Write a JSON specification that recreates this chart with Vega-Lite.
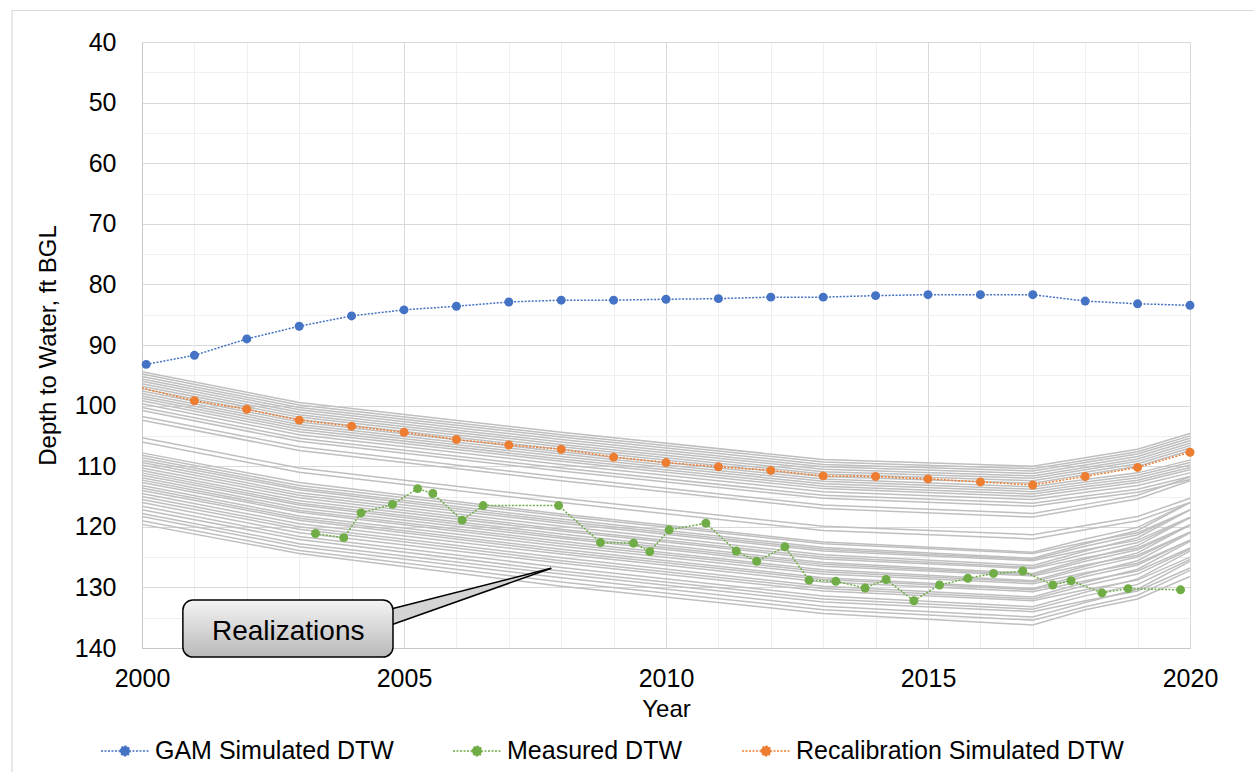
{
"$schema": "https://vega.github.io/schema/vega-lite/v6.json",
"width": 1048, "height": 606,
"autosize": {"type": "none"},
"padding": {"left": 142, "top": 42, "right": 64, "bottom": 124},
"background": "white",
"config": {
 "view": {"stroke": null},
 "font": "Liberation Sans",
 "axis": {"labelFont": "Liberation Sans", "titleFont": "Liberation Sans", "labelColor": "#000000", "titleColor": "#000000", "titleFontWeight": "normal", "ticks": false, "tickSize": 0, "domainColor": "#c8c8c8", "labelFontSize": 25, "titleFontSize": 24, "labelOverlap": false, "labelFlush": false, "gridWidth": 1}
},
"datasets": {
 "frame": [{"x": 1997.52, "x2": 2021.5, "y": 34.8, "y2": 165}],
 "real": [
{"r":1,"x":2000,"y":94.4},{"r":1,"x":2003,"y":99.5},{"r":1,"x":2008,"y":104.4},{"r":1,"x":2013,"y":108.9},{"r":1,"x":2017,"y":110.0},{"r":1,"x":2018,"y":108.6},{"r":1,"x":2019,"y":107.2},{"r":1,"x":2020,"y":104.6},
{"r":2,"x":2000,"y":94.8},{"r":2,"x":2003,"y":99.9},{"r":2,"x":2008,"y":104.8},{"r":2,"x":2013,"y":109.3},{"r":2,"x":2017,"y":110.4},{"r":2,"x":2018,"y":109.0},{"r":2,"x":2019,"y":107.6},{"r":2,"x":2020,"y":105.0},
{"r":3,"x":2000,"y":95.2},{"r":3,"x":2003,"y":100.3},{"r":3,"x":2008,"y":105.2},{"r":3,"x":2013,"y":109.7},{"r":3,"x":2017,"y":110.8},{"r":3,"x":2018,"y":109.4},{"r":3,"x":2019,"y":108.0},{"r":3,"x":2020,"y":105.4},
{"r":4,"x":2000,"y":95.6},{"r":4,"x":2003,"y":100.7},{"r":4,"x":2008,"y":105.6},{"r":4,"x":2013,"y":110.1},{"r":4,"x":2017,"y":111.2},{"r":4,"x":2018,"y":109.8},{"r":4,"x":2019,"y":108.4},{"r":4,"x":2020,"y":105.8},
{"r":5,"x":2000,"y":96.0},{"r":5,"x":2003,"y":101.1},{"r":5,"x":2008,"y":106.0},{"r":5,"x":2013,"y":110.5},{"r":5,"x":2017,"y":111.6},{"r":5,"x":2018,"y":110.2},{"r":5,"x":2019,"y":108.8},{"r":5,"x":2020,"y":106.2},
{"r":6,"x":2000,"y":96.4},{"r":6,"x":2003,"y":101.5},{"r":6,"x":2008,"y":106.4},{"r":6,"x":2013,"y":110.9},{"r":6,"x":2017,"y":112.0},{"r":6,"x":2018,"y":110.6},{"r":6,"x":2019,"y":109.2},{"r":6,"x":2020,"y":106.6},
{"r":7,"x":2000,"y":96.8},{"r":7,"x":2003,"y":101.9},{"r":7,"x":2008,"y":106.8},{"r":7,"x":2013,"y":111.3},{"r":7,"x":2017,"y":112.4},{"r":7,"x":2018,"y":111.0},{"r":7,"x":2019,"y":109.6},{"r":7,"x":2020,"y":107.0},
{"r":8,"x":2000,"y":97.2},{"r":8,"x":2003,"y":102.3},{"r":8,"x":2008,"y":107.2},{"r":8,"x":2013,"y":111.7},{"r":8,"x":2017,"y":112.8},{"r":8,"x":2018,"y":111.4},{"r":8,"x":2019,"y":110.0},{"r":8,"x":2020,"y":107.4},
{"r":9,"x":2000,"y":97.6},{"r":9,"x":2003,"y":102.7},{"r":9,"x":2008,"y":107.6},{"r":9,"x":2013,"y":112.1},{"r":9,"x":2017,"y":113.4},{"r":9,"x":2018,"y":112.2},{"r":9,"x":2019,"y":111.1},{"r":9,"x":2020,"y":109.0},
{"r":10,"x":2000,"y":98.0},{"r":10,"x":2003,"y":103.1},{"r":10,"x":2008,"y":108.0},{"r":10,"x":2013,"y":112.5},{"r":10,"x":2017,"y":113.8},{"r":10,"x":2018,"y":112.6},{"r":10,"x":2019,"y":111.5},{"r":10,"x":2020,"y":109.4},
{"r":11,"x":2000,"y":98.4},{"r":11,"x":2003,"y":103.5},{"r":11,"x":2008,"y":108.4},{"r":11,"x":2013,"y":112.9},{"r":11,"x":2017,"y":114.2},{"r":11,"x":2018,"y":113.0},{"r":11,"x":2019,"y":111.9},{"r":11,"x":2020,"y":109.8},
{"r":12,"x":2000,"y":98.8},{"r":12,"x":2003,"y":103.9},{"r":12,"x":2008,"y":108.8},{"r":12,"x":2013,"y":113.3},{"r":12,"x":2017,"y":114.6},{"r":12,"x":2018,"y":113.4},{"r":12,"x":2019,"y":112.3},{"r":12,"x":2020,"y":110.2},
{"r":13,"x":2000,"y":99.2},{"r":13,"x":2003,"y":104.3},{"r":13,"x":2008,"y":109.2},{"r":13,"x":2013,"y":113.7},{"r":13,"x":2017,"y":115.0},{"r":13,"x":2018,"y":113.8},{"r":13,"x":2019,"y":112.7},{"r":13,"x":2020,"y":110.6},
{"r":14,"x":2000,"y":99.7},{"r":14,"x":2003,"y":104.8},{"r":14,"x":2008,"y":109.7},{"r":14,"x":2013,"y":114.2},{"r":14,"x":2017,"y":115.5},{"r":14,"x":2018,"y":114.3},{"r":14,"x":2019,"y":113.2},{"r":14,"x":2020,"y":111.1},
{"r":15,"x":2000,"y":100.3},{"r":15,"x":2003,"y":105.4},{"r":15,"x":2008,"y":110.3},{"r":15,"x":2013,"y":114.8},{"r":15,"x":2017,"y":116.1},{"r":15,"x":2018,"y":114.9},{"r":15,"x":2019,"y":113.8},{"r":15,"x":2020,"y":111.7},
{"r":16,"x":2000,"y":100.8},{"r":16,"x":2003,"y":105.9},{"r":16,"x":2008,"y":110.8},{"r":16,"x":2013,"y":115.3},{"r":16,"x":2017,"y":116.6},{"r":16,"x":2018,"y":115.4},{"r":16,"x":2019,"y":114.3},{"r":16,"x":2020,"y":112.2},
{"r":17,"x":2000,"y":101.8},{"r":17,"x":2003,"y":106.8},{"r":17,"x":2008,"y":111.8},{"r":17,"x":2013,"y":116.4},{"r":17,"x":2017,"y":117.8},{"r":17,"x":2018,"y":116.3},{"r":17,"x":2019,"y":114.8},{"r":17,"x":2020,"y":111.8},
{"r":18,"x":2000,"y":102.4},{"r":18,"x":2003,"y":107.4},{"r":18,"x":2008,"y":112.4},{"r":18,"x":2013,"y":117.0},{"r":18,"x":2017,"y":118.4},{"r":18,"x":2018,"y":116.9},{"r":18,"x":2019,"y":115.4},{"r":18,"x":2020,"y":112.4},
{"r":19,"x":2000,"y":105.3},{"r":19,"x":2003,"y":110.3},{"r":19,"x":2008,"y":115.3},{"r":19,"x":2013,"y":119.9},{"r":19,"x":2017,"y":121.3},{"r":19,"x":2018,"y":119.8},{"r":19,"x":2019,"y":118.3},{"r":19,"x":2020,"y":115.3},
{"r":20,"x":2000,"y":106.0},{"r":20,"x":2003,"y":111.0},{"r":20,"x":2008,"y":116.0},{"r":20,"x":2013,"y":120.6},{"r":20,"x":2017,"y":122.0},{"r":20,"x":2018,"y":120.5},{"r":20,"x":2019,"y":119.0},{"r":20,"x":2020,"y":116.0},
{"r":21,"x":2000,"y":107.8},{"r":21,"x":2003,"y":112.7},{"r":21,"x":2008,"y":117.9},{"r":21,"x":2013,"y":122.5},{"r":21,"x":2017,"y":124.2},{"r":21,"x":2018,"y":122.0},{"r":21,"x":2019,"y":120.1},{"r":21,"x":2020,"y":116.0},
{"r":22,"x":2000,"y":108.2},{"r":22,"x":2003,"y":113.2},{"r":22,"x":2008,"y":118.2},{"r":22,"x":2013,"y":122.8},{"r":22,"x":2017,"y":124.4},{"r":22,"x":2018,"y":122.6},{"r":22,"x":2019,"y":121.0},{"r":22,"x":2020,"y":117.2},
{"r":23,"x":2000,"y":108.6},{"r":23,"x":2003,"y":113.6},{"r":23,"x":2008,"y":118.7},{"r":23,"x":2013,"y":123.4},{"r":23,"x":2017,"y":125.2},{"r":23,"x":2018,"y":122.8},{"r":23,"x":2019,"y":120.6},{"r":23,"x":2020,"y":116.0},
{"r":24,"x":2000,"y":109.0},{"r":24,"x":2003,"y":113.9},{"r":24,"x":2008,"y":119.1},{"r":24,"x":2013,"y":123.7},{"r":24,"x":2017,"y":125.4},{"r":24,"x":2018,"y":123.2},{"r":24,"x":2019,"y":121.3},{"r":24,"x":2020,"y":117.2},
{"r":25,"x":2000,"y":109.4},{"r":25,"x":2003,"y":114.4},{"r":25,"x":2008,"y":119.4},{"r":25,"x":2013,"y":124.0},{"r":25,"x":2017,"y":125.6},{"r":25,"x":2018,"y":123.8},{"r":25,"x":2019,"y":122.2},{"r":25,"x":2020,"y":118.4},
{"r":26,"x":2000,"y":109.8},{"r":26,"x":2003,"y":114.8},{"r":26,"x":2008,"y":119.9},{"r":26,"x":2013,"y":124.6},{"r":26,"x":2017,"y":126.4},{"r":26,"x":2018,"y":124.0},{"r":26,"x":2019,"y":121.8},{"r":26,"x":2020,"y":117.2},
{"r":27,"x":2000,"y":110.3},{"r":27,"x":2003,"y":115.2},{"r":27,"x":2008,"y":120.4},{"r":27,"x":2013,"y":125.0},{"r":27,"x":2017,"y":126.7},{"r":27,"x":2018,"y":124.5},{"r":27,"x":2019,"y":122.6},{"r":27,"x":2020,"y":118.5},
{"r":28,"x":2000,"y":110.7},{"r":28,"x":2003,"y":115.7},{"r":28,"x":2008,"y":120.7},{"r":28,"x":2013,"y":125.3},{"r":28,"x":2017,"y":126.9},{"r":28,"x":2018,"y":125.1},{"r":28,"x":2019,"y":123.5},{"r":28,"x":2020,"y":119.7},
{"r":29,"x":2000,"y":111.1},{"r":29,"x":2003,"y":116.1},{"r":29,"x":2008,"y":121.2},{"r":29,"x":2013,"y":125.9},{"r":29,"x":2017,"y":127.7},{"r":29,"x":2018,"y":125.3},{"r":29,"x":2019,"y":123.1},{"r":29,"x":2020,"y":118.5},
{"r":30,"x":2000,"y":111.5},{"r":30,"x":2003,"y":116.4},{"r":30,"x":2008,"y":121.6},{"r":30,"x":2013,"y":126.2},{"r":30,"x":2017,"y":127.9},{"r":30,"x":2018,"y":125.7},{"r":30,"x":2019,"y":123.8},{"r":30,"x":2020,"y":119.7},
{"r":31,"x":2000,"y":111.9},{"r":31,"x":2003,"y":116.9},{"r":31,"x":2008,"y":121.9},{"r":31,"x":2013,"y":126.5},{"r":31,"x":2017,"y":128.1},{"r":31,"x":2018,"y":126.3},{"r":31,"x":2019,"y":124.7},{"r":31,"x":2020,"y":120.9},
{"r":32,"x":2000,"y":112.3},{"r":32,"x":2003,"y":117.3},{"r":32,"x":2008,"y":122.4},{"r":32,"x":2013,"y":127.1},{"r":32,"x":2017,"y":128.9},{"r":32,"x":2018,"y":126.5},{"r":32,"x":2019,"y":124.3},{"r":32,"x":2020,"y":119.7},
{"r":33,"x":2000,"y":112.7},{"r":33,"x":2003,"y":117.6},{"r":33,"x":2008,"y":122.8},{"r":33,"x":2013,"y":127.4},{"r":33,"x":2017,"y":129.1},{"r":33,"x":2018,"y":126.9},{"r":33,"x":2019,"y":125.0},{"r":33,"x":2020,"y":120.9},
{"r":34,"x":2000,"y":113.2},{"r":34,"x":2003,"y":118.2},{"r":34,"x":2008,"y":123.2},{"r":34,"x":2013,"y":127.8},{"r":34,"x":2017,"y":129.4},{"r":34,"x":2018,"y":127.6},{"r":34,"x":2019,"y":126.0},{"r":34,"x":2020,"y":122.2},
{"r":35,"x":2000,"y":113.6},{"r":35,"x":2003,"y":118.6},{"r":35,"x":2008,"y":123.7},{"r":35,"x":2013,"y":128.4},{"r":35,"x":2017,"y":130.2},{"r":35,"x":2018,"y":127.8},{"r":35,"x":2019,"y":125.6},{"r":35,"x":2020,"y":121.0},
{"r":36,"x":2000,"y":114.0},{"r":36,"x":2003,"y":118.9},{"r":36,"x":2008,"y":124.1},{"r":36,"x":2013,"y":128.7},{"r":36,"x":2017,"y":130.4},{"r":36,"x":2018,"y":128.2},{"r":36,"x":2019,"y":126.3},{"r":36,"x":2020,"y":122.2},
{"r":37,"x":2000,"y":114.5},{"r":37,"x":2003,"y":119.5},{"r":37,"x":2008,"y":124.5},{"r":37,"x":2013,"y":129.1},{"r":37,"x":2017,"y":130.7},{"r":37,"x":2018,"y":128.9},{"r":37,"x":2019,"y":127.3},{"r":37,"x":2020,"y":123.5},
{"r":38,"x":2000,"y":115.0},{"r":38,"x":2003,"y":120.0},{"r":38,"x":2008,"y":125.1},{"r":38,"x":2013,"y":129.8},{"r":38,"x":2017,"y":131.6},{"r":38,"x":2018,"y":129.2},{"r":38,"x":2019,"y":127.0},{"r":38,"x":2020,"y":122.4},
{"r":39,"x":2000,"y":115.5},{"r":39,"x":2003,"y":120.4},{"r":39,"x":2008,"y":125.6},{"r":39,"x":2013,"y":130.2},{"r":39,"x":2017,"y":131.9},{"r":39,"x":2018,"y":129.7},{"r":39,"x":2019,"y":127.8},{"r":39,"x":2020,"y":123.7},
{"r":40,"x":2000,"y":116.0},{"r":40,"x":2003,"y":121.0},{"r":40,"x":2008,"y":126.0},{"r":40,"x":2013,"y":130.6},{"r":40,"x":2017,"y":132.2},{"r":40,"x":2018,"y":130.4},{"r":40,"x":2019,"y":128.8},{"r":40,"x":2020,"y":125.0},
{"r":41,"x":2000,"y":116.6},{"r":41,"x":2003,"y":121.6},{"r":41,"x":2008,"y":126.7},{"r":41,"x":2013,"y":131.4},{"r":41,"x":2017,"y":133.2},{"r":41,"x":2018,"y":130.8},{"r":41,"x":2019,"y":128.6},{"r":41,"x":2020,"y":124.0},
{"r":42,"x":2000,"y":117.2},{"r":42,"x":2003,"y":122.1},{"r":42,"x":2008,"y":127.3},{"r":42,"x":2013,"y":131.9},{"r":42,"x":2017,"y":133.6},{"r":42,"x":2018,"y":131.4},{"r":42,"x":2019,"y":129.5},{"r":42,"x":2020,"y":125.4},
{"r":43,"x":2000,"y":117.8},{"r":43,"x":2003,"y":122.8},{"r":43,"x":2008,"y":127.8},{"r":43,"x":2013,"y":132.4},{"r":43,"x":2017,"y":134.0},{"r":43,"x":2018,"y":132.2},{"r":43,"x":2019,"y":130.6},{"r":43,"x":2020,"y":126.8},
{"r":44,"x":2000,"y":118.3},{"r":44,"x":2003,"y":123.3},{"r":44,"x":2008,"y":128.4},{"r":44,"x":2013,"y":133.1},{"r":44,"x":2017,"y":134.9},{"r":44,"x":2018,"y":132.5},{"r":44,"x":2019,"y":130.3},{"r":44,"x":2020,"y":125.7},
{"r":45,"x":2000,"y":119.0},{"r":45,"x":2003,"y":123.9},{"r":45,"x":2008,"y":129.1},{"r":45,"x":2013,"y":133.7},{"r":45,"x":2017,"y":135.4},{"r":45,"x":2018,"y":133.2},{"r":45,"x":2019,"y":131.3},{"r":45,"x":2020,"y":127.2},
{"r":46,"x":2000,"y":119.6},{"r":46,"x":2003,"y":124.4},{"r":46,"x":2008,"y":129.8},{"r":46,"x":2013,"y":134.3},{"r":46,"x":2017,"y":136.2},{"r":46,"x":2018,"y":133.7},{"r":46,"x":2019,"y":131.9},{"r":46,"x":2020,"y":128.2}
 ],
 "wedgefill": [{"x": 2004.6, "y": 133.9, "y2": 136.65}, {"x": 2007.81, "y": 126.85, "y2": 126.85}],
 "wedge": [{"x": 2004.79, "y": 133.48, "x2": 2007.81, "y2": 126.85}, {"x": 2004.79, "y": 136.07, "x2": 2007.81, "y2": 126.85}],
 "box": [{"x": 2000.78, "x2": 2004.79, "y": 132.08, "y2": 141.49}],
 "label": [{"x": 2002.79, "y": 137.3, "t": "Realizations"}],
 "series": [
{"s":"GAM Simulated DTW","x":2000.08,"y":93.2},{"s":"GAM Simulated DTW","x":2001,"y":91.7},{"s":"GAM Simulated DTW","x":2002,"y":89.0},{"s":"GAM Simulated DTW","x":2003,"y":86.9},{"s":"GAM Simulated DTW","x":2004,"y":85.2},{"s":"GAM Simulated DTW","x":2005,"y":84.2},{"s":"GAM Simulated DTW","x":2006,"y":83.6},{"s":"GAM Simulated DTW","x":2007,"y":82.9},{"s":"GAM Simulated DTW","x":2008,"y":82.6},{"s":"GAM Simulated DTW","x":2009,"y":82.6},{"s":"GAM Simulated DTW","x":2010,"y":82.45},{"s":"GAM Simulated DTW","x":2011,"y":82.35},{"s":"GAM Simulated DTW","x":2012,"y":82.1},{"s":"GAM Simulated DTW","x":2013,"y":82.1},{"s":"GAM Simulated DTW","x":2014,"y":81.85},{"s":"GAM Simulated DTW","x":2015,"y":81.7},{"s":"GAM Simulated DTW","x":2016,"y":81.7},{"s":"GAM Simulated DTW","x":2017,"y":81.7},{"s":"GAM Simulated DTW","x":2018,"y":82.75},{"s":"GAM Simulated DTW","x":2019,"y":83.2},{"s":"GAM Simulated DTW","x":2020,"y":83.45},
{"s":"Measured DTW","x":2003.31,"y":121.1},{"s":"Measured DTW","x":2003.85,"y":121.8},{"s":"Measured DTW","x":2004.18,"y":117.7},{"s":"Measured DTW","x":2004.78,"y":116.3},{"s":"Measured DTW","x":2005.26,"y":113.7},{"s":"Measured DTW","x":2005.55,"y":114.5},{"s":"Measured DTW","x":2006.11,"y":118.9},{"s":"Measured DTW","x":2006.51,"y":116.5},{"s":"Measured DTW","x":2007.95,"y":116.5},{"s":"Measured DTW","x":2008.75,"y":122.6},{"s":"Measured DTW","x":2009.38,"y":122.7},{"s":"Measured DTW","x":2009.69,"y":124.1},{"s":"Measured DTW","x":2010.06,"y":120.5},{"s":"Measured DTW","x":2010.76,"y":119.4},{"s":"Measured DTW","x":2011.34,"y":124.0},{"s":"Measured DTW","x":2011.73,"y":125.7},{"s":"Measured DTW","x":2012.27,"y":123.3},{"s":"Measured DTW","x":2012.73,"y":128.8},{"s":"Measured DTW","x":2013.24,"y":129.0},{"s":"Measured DTW","x":2013.8,"y":130.1},{"s":"Measured DTW","x":2014.2,"y":128.7},{"s":"Measured DTW","x":2014.73,"y":132.2},{"s":"Measured DTW","x":2015.22,"y":129.6},{"s":"Measured DTW","x":2015.76,"y":128.5},{"s":"Measured DTW","x":2016.25,"y":127.7},{"s":"Measured DTW","x":2016.81,"y":127.3},{"s":"Measured DTW","x":2017.38,"y":129.6},{"s":"Measured DTW","x":2017.73,"y":128.9},{"s":"Measured DTW","x":2018.32,"y":130.9},{"s":"Measured DTW","x":2018.82,"y":130.2},{"s":"Measured DTW","x":2019.82,"y":130.4},
{"s":"Recalibration Simulated DTW","x":2000,"y":97.1},{"s":"Recalibration Simulated DTW","x":2001,"y":99.2},{"s":"Recalibration Simulated DTW","x":2002,"y":100.6},{"s":"Recalibration Simulated DTW","x":2003,"y":102.4},{"s":"Recalibration Simulated DTW","x":2004,"y":103.4},{"s":"Recalibration Simulated DTW","x":2005,"y":104.4},{"s":"Recalibration Simulated DTW","x":2006,"y":105.6},{"s":"Recalibration Simulated DTW","x":2007,"y":106.5},{"s":"Recalibration Simulated DTW","x":2008,"y":107.2},{"s":"Recalibration Simulated DTW","x":2009,"y":108.5},{"s":"Recalibration Simulated DTW","x":2010,"y":109.4},{"s":"Recalibration Simulated DTW","x":2011,"y":110.1},{"s":"Recalibration Simulated DTW","x":2012,"y":110.7},{"s":"Recalibration Simulated DTW","x":2013,"y":111.6},{"s":"Recalibration Simulated DTW","x":2014,"y":111.7},{"s":"Recalibration Simulated DTW","x":2015,"y":112.1},{"s":"Recalibration Simulated DTW","x":2016,"y":112.6},{"s":"Recalibration Simulated DTW","x":2017,"y":113.1},{"s":"Recalibration Simulated DTW","x":2018,"y":111.7},{"s":"Recalibration Simulated DTW","x":2019,"y":110.2},{"s":"Recalibration Simulated DTW","x":2020,"y":107.7}
 ]
},
"encoding": {
 "x": {"field": "x", "type": "quantitative",
  "scale": {"domain": [2000, 2020], "nice": false, "zero": false},
  "axis": {"title": "Year", "format": "d",
   "values": [2000,2001,2002,2003,2004,2005,2006,2007,2008,2009,2010,2011,2012,2013,2014,2015,2016,2017,2018,2019,2020],
   "labelExpr": "datum.value % 5 === 0 ? datum.label : ''",
   "grid": true, "gridColor": {"condition": {"test": "datum.value % 5 === 0", "value": "#d9d9d9"}, "value": "#efefef"},
   "labelPadding": 18, "titlePadding": 6}},
 "y": {"field": "y", "type": "quantitative",
  "scale": {"domain": [40, 140], "reverse": true, "nice": false, "zero": false},
  "axis": {"title": "Depth to Water, ft BGL",
   "values": [40,45,50,55,60,65,70,75,80,85,90,95,100,105,110,115,120,125,130,135,140],
   "labelExpr": "datum.value % 10 === 0 ? datum.label : ''",
   "grid": true, "gridColor": {"condition": {"test": "datum.value % 10 === 0", "value": "#d9d9d9"}, "value": "#efefef"},
   "labelPadding": 26, "titlePadding": 14}}
},
"layer": [
 {"data": {"name": "frame"}, "mark": {"type": "rect", "clip": false, "fillOpacity": 0, "stroke": "#d9d9d9", "strokeWidth": 1.2},
  "encoding": {"x2": {"field": "x2"}, "y2": {"field": "y2"}}},
 {"data": {"name": "real"}, "mark": {"type": "line", "color": "#bfbfbf", "strokeWidth": 1.5},
  "encoding": {"detail": {"field": "r", "type": "nominal"}}},
 {"data": {"name": "wedgefill"}, "mark": {"type": "area", "clip": false, "color": "#d4d4d4", "opacity": 1},
  "encoding": {"y2": {"field": "y2"}}},
 {"data": {"name": "box"}, "mark": {"type": "rect", "clip": false, "cornerRadius": 10, "stroke": "#000000", "strokeWidth": 1.5,
   "fill": {"gradient": "linear", "x1": 0, "y1": 0, "x2": 0, "y2": 1, "stops": [{"offset": 0, "color": "#f4f4f4"}, {"offset": 1, "color": "#b9b9b9"}]}},
  "encoding": {"x2": {"field": "x2"}, "y2": {"field": "y2"}}},
 {"data": {"name": "wedge"}, "mark": {"type": "rule", "clip": false, "color": "#000000", "strokeWidth": 1.5},
  "encoding": {"x2": {"field": "x2"}, "y2": {"field": "y2"}}},
 {"data": {"name": "label"}, "mark": {"type": "text", "clip": false, "font": "Liberation Sans", "fontSize": 28, "color": "#000000", "align": "center", "baseline": "middle"},
  "encoding": {"text": {"field": "t"}}},
 {"data": {"name": "series"}, "mark": {"type": "line", "strokeWidth": 1.5, "strokeDash": [2, 1.5]},
  "encoding": {"detail": {"field": "s"}, "color": {"field": "s", "type": "nominal",
   "scale": {"domain": ["GAM Simulated DTW", "Measured DTW", "Recalibration Simulated DTW"], "range": ["#4472C4", "#70AD47", "#ED7D31"]},
   "legend": {"orient": "none", "legendX": -42, "legendY": 684, "direction": "horizontal", "title": null, "padding": 0, "columnPadding": 56,
    "labelFontSize": 25, "labelFont": "Liberation Sans", "labelColor": "#000000", "labelOffset": 5, "labelLimit": 600,
    "symbolType": "M-1,0L1,0M-0.2,0A0.2,0.2,0,1,1,0.2,0A0.2,0.2,0,1,1,-0.2,0Z", "symbolSize": 2304, "symbolStrokeWidth": 1.5, "symbolDash": [2, 1.5],
    "encode": {"symbols": {"update": {"fill": {"scale": "color", "field": "value"}, "stroke": {"scale": "color", "field": "value"}, "opacity": {"value": 1}}}}}}}},
 {"data": {"name": "series"}, "transform": [{"filter": "datum.x !== 2000"}], "mark": {"type": "circle", "size": 80, "opacity": 1},
  "encoding": {"color": {"field": "s", "type": "nominal", "legend": null}}}
]
}
